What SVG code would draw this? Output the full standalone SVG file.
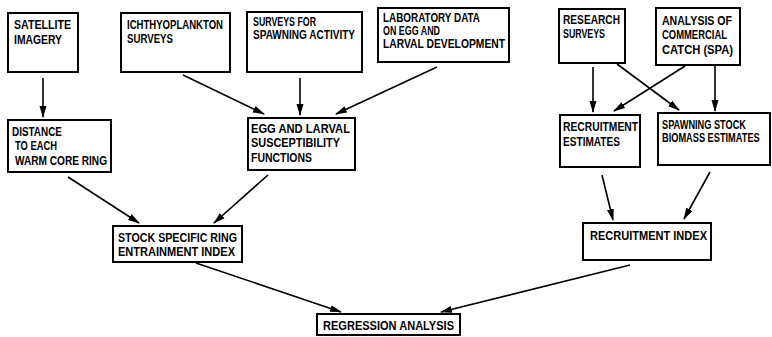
<svg xmlns="http://www.w3.org/2000/svg" width="772" height="337" viewBox="0 0 772 337">
<style>
.box{fill:#fff;stroke:#000;stroke-width:2}
text{font-family:"Liberation Sans",Arial,sans-serif;font-weight:bold;font-size:12px;fill:#000}
.c line{stroke:#000;stroke-width:1.6;marker-end:url(#ah)}
</style>
<defs>
<marker id="ah" viewBox="0 0 12 8" refX="11" refY="4" markerWidth="12" markerHeight="8" markerUnits="userSpaceOnUse" orient="auto">
<path d="M0,0.5 L12,4 L0,7.5 Z" fill="#000"/>
</marker>
</defs>
<rect width="772" height="337" fill="#fff"/>
<g id="satellite"><rect class="box" x="8" y="13" width="70" height="59"/>
<text x="14" y="29" textLength="57" lengthAdjust="spacingAndGlyphs">SATELLITE</text>
<text x="14" y="44" textLength="48" lengthAdjust="spacingAndGlyphs">IMAGERY</text></g>
<g id="ichthyo"><rect class="box" x="121" y="13" width="109" height="59"/>
<text x="127" y="29" textLength="96" lengthAdjust="spacingAndGlyphs">ICHTHYOPLANKTON</text>
<text x="127" y="43" textLength="46" lengthAdjust="spacingAndGlyphs">SURVEYS</text></g>
<g id="surveys"><rect class="box" x="247" y="12" width="115" height="60"/>
<text x="253" y="26" textLength="63" lengthAdjust="spacingAndGlyphs">SURVEYS FOR</text>
<text x="253" y="39" textLength="102" lengthAdjust="spacingAndGlyphs">SPAWNING ACTIVITY</text></g>
<g id="lab"><rect class="box" x="378" y="8" width="131" height="54"/>
<text x="383" y="22" textLength="97" lengthAdjust="spacingAndGlyphs">LABORATORY DATA</text>
<text x="383" y="35" textLength="57" lengthAdjust="spacingAndGlyphs">ON EGG AND</text>
<text x="383" y="48" textLength="122" lengthAdjust="spacingAndGlyphs">LARVAL DEVELOPMENT</text></g>
<g id="research"><rect class="box" x="559" y="9" width="66" height="54"/>
<text x="563" y="24" textLength="57" lengthAdjust="spacingAndGlyphs">RESEARCH</text>
<text x="563" y="38" textLength="42" lengthAdjust="spacingAndGlyphs">SURVEYS</text></g>
<g id="analysis"><rect class="box" x="656" y="8" width="84" height="57"/>
<text x="662" y="25" textLength="70" lengthAdjust="spacingAndGlyphs">ANALYSIS OF</text>
<text x="662" y="39" textLength="65" lengthAdjust="spacingAndGlyphs">COMMERCIAL</text>
<text x="662" y="54" textLength="71" lengthAdjust="spacingAndGlyphs">CATCH (SPA)</text></g>
<g id="distance"><rect class="box" x="8" y="120" width="103" height="52"/>
<text x="12" y="136" textLength="50" lengthAdjust="spacingAndGlyphs">DISTANCE</text>
<text x="15" y="150" textLength="42" lengthAdjust="spacingAndGlyphs">TO EACH</text>
<text x="15" y="165" textLength="92" lengthAdjust="spacingAndGlyphs">WARM CORE RING</text></g>
<g id="egg"><rect class="box" x="248" y="118" width="107" height="52"/>
<text x="251" y="133" textLength="99" lengthAdjust="spacingAndGlyphs">EGG AND LARVAL</text>
<text x="251" y="147" textLength="89" lengthAdjust="spacingAndGlyphs">SUSCEPTIBILITY</text>
<text x="251" y="162" textLength="61" lengthAdjust="spacingAndGlyphs">FUNCTIONS</text></g>
<g id="recruitest"><rect class="box" x="560" y="115" width="80" height="52"/>
<text x="563" y="131" textLength="75" lengthAdjust="spacingAndGlyphs">RECRUITMENT</text>
<text x="563" y="146" textLength="57" lengthAdjust="spacingAndGlyphs">ESTIMATES</text></g>
<g id="spawning"><rect class="box" x="658" y="113" width="112" height="52"/>
<text x="662" y="129" textLength="84" lengthAdjust="spacingAndGlyphs">SPAWNING STOCK</text>
<text transform="translate(662,142) scale(0.77,1)" x="0" y="0">BIOMASS ESTIMATES</text></g>
<g id="stock"><rect class="box" x="113" y="226" width="129" height="36"/>
<text x="118" y="242" textLength="119" lengthAdjust="spacingAndGlyphs">STOCK SPECIFIC RING</text>
<text x="118" y="256" textLength="117" lengthAdjust="spacingAndGlyphs">ENTRAINMENT INDEX</text></g>
<g id="recruitindex"><rect class="box" x="583" y="223" width="128" height="37"/>
<text x="590" y="240" textLength="117" lengthAdjust="spacingAndGlyphs">RECRUITMENT INDEX</text></g>
<g id="regression"><rect class="box" x="317" y="314" width="143" height="21"/>
<text x="323" y="330" textLength="131" lengthAdjust="spacingAndGlyphs">REGRESSION ANALYSIS</text></g>
<g id="connectors" class="c">
<line x1="43" y1="78" x2="43" y2="117"/>
<line x1="183" y1="75" x2="264" y2="114"/>
<line x1="300" y1="78" x2="300" y2="115"/>
<line x1="437" y1="67" x2="336" y2="114"/>
<line x1="593" y1="67" x2="593" y2="112"/>
<line x1="617" y1="64" x2="679" y2="110"/>
<line x1="685" y1="66" x2="614" y2="111"/>
<line x1="715" y1="64" x2="715" y2="111"/>
<line x1="602" y1="175" x2="613" y2="220"/>
<line x1="710" y1="172" x2="684" y2="219"/>
<line x1="68" y1="177" x2="139" y2="223"/>
<line x1="268" y1="175" x2="214" y2="223"/>
<line x1="196" y1="263" x2="341" y2="312"/>
<line x1="630" y1="265" x2="441" y2="312"/>
</g>
</svg>
